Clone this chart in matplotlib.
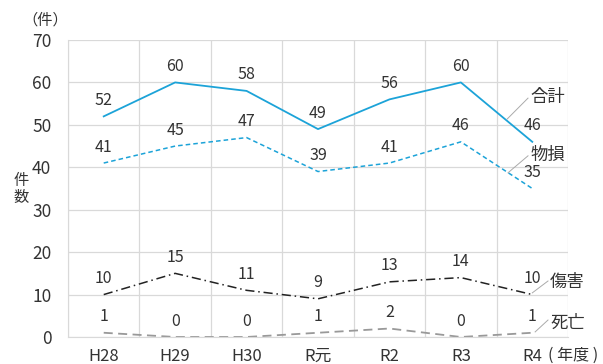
import numpy as np
import matplotlib.pyplot as plt

plt.rcParams['font.family'] = ['Noto Sans CJK JP', 'DejaVu Sans']

years = ['H28', 'H29', 'H30', 'R元', 'R2', 'R3', 'R4']
total = [52, 60, 58, 49, 56, 60, 46]
damage = [41, 45, 47, 39, 41, 46, 35]
injury = [10, 15, 11, 9, 13, 14, 10]
death = [1, 0, 0, 1, 2, 0, 1]

fig = plt.figure(figsize=(6.03, 3.64), dpi=100)
ax = fig.add_axes([68/603, 27/364, 500/603, 297/364])

x = np.arange(len(years))
blue = '#1ca3d8'
ax.plot(x, total, color=blue, lw=1.3, ls='-')
ax.plot(x, damage, color=blue, lw=1.1, ls=(0, (3, 2)))
ax.plot(x, injury, color='#222222', lw=1.1, ls=(0, (6, 2.5, 1, 2.5)))
ax.plot(x, death, color='#999999', lw=1.3, ls=(0, (5, 3)))

# value labels above each point
for series in [total, damage, injury, death]:
    for i, v in enumerate(series):
        ax.annotate(str(v), (i, v), xytext=(0, 11.5), textcoords='offset points',
                    ha='center', va='center', fontsize=11.5, color='#333333')

ax.set_xlim(-0.5, 6.5)
ax.set_ylim(0, 70)
ax.set_yticks(range(0, 71, 10))
ax.set_xticks(x)
ax.set_xticklabels(years)
ax.set_xticks(np.arange(-0.5, 7, 1), minor=True)
ax.grid(False)
ax.yaxis.grid(True, color='#d9d9d9', lw=0.9)
ax.xaxis.grid(True, which='minor', color='#d9d9d9', lw=0.9)
ax.tick_params(which='both', length=0)
ax.tick_params(axis='y', labelsize=12.5, pad=12, colors='#333333')
ax.tick_params(axis='x', labelsize=12, pad=8, colors='#333333')
for s in ['top', 'right']:
    ax.spines[s].set_visible(False)
for s in ['left', 'bottom']:
    ax.spines[s].set_color('#d9d9d9')
ax.set_axisbelow(True)

# leader lines and series names
leaders = [
    ('合計', (5.65, 51.4), (5.94, 56.3), (5.98, 56.6)),
    ('物損', (5.66, 38.7), (5.94, 42.7), (5.98, 42.9)),
    ('傷害', (6.0, 10.4), (6.22, 13.2), (6.25, 13.0)),
    ('死亡', (6.04, 1.2), (6.22, 4.0), (6.25, 3.3)),
]
for name, p0, p1, tp in leaders:
    ax.plot([p0[0], p1[0]], [p0[1], p1[1]], color='#aaaaaa', lw=0.7, clip_on=False)
    ax.text(tp[0], tp[1], name, ha='left', va='center', fontsize=12.5,
            color='#333333', clip_on=False)

fig.text(45/603, 1 - 20/364, '（件）', ha='center', va='center', fontsize=11, color='#333333')
fig.text(21/603, 1 - 189/364, '件\n数', ha='center', va='center', fontsize=11,
         color='#333333', linespacing=1.0)
fig.text(548/603, 1 - 355/364, '( 年度 )', ha='left', va='center', fontsize=11.5, color='#333333')

fig.savefig('out.png', dpi=100)
